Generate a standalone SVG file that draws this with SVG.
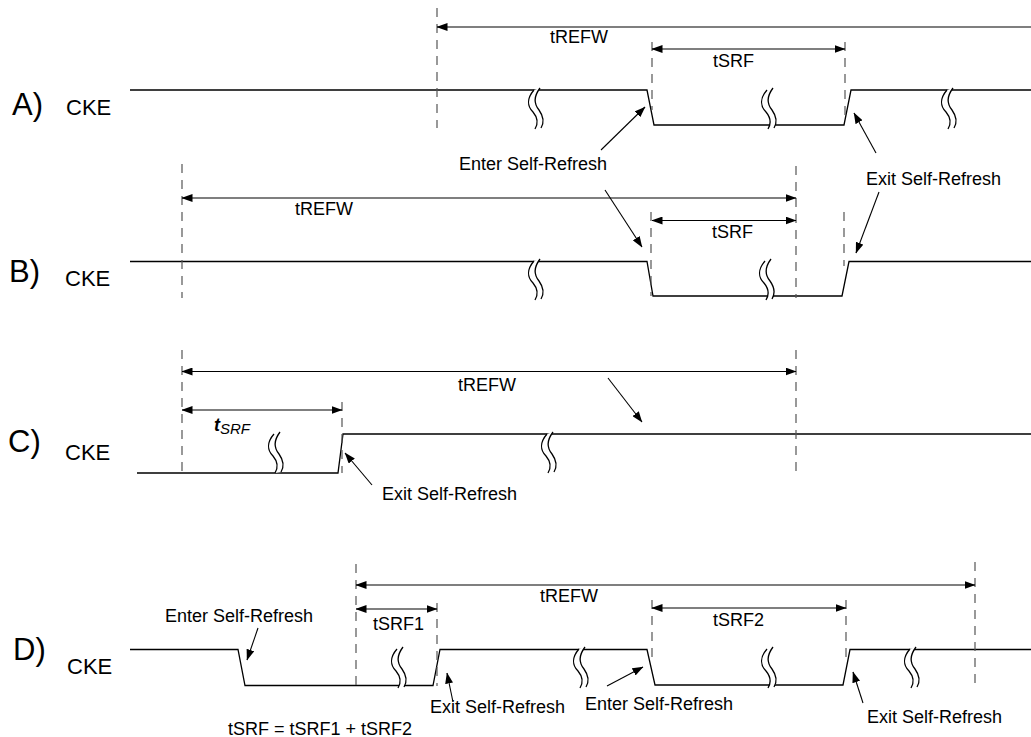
<svg xmlns="http://www.w3.org/2000/svg" xmlns:xlink="http://www.w3.org/1999/xlink" width="1031" height="737" viewBox="0 0 1031 737">
<style>
  .sig{fill:none;stroke:#000;stroke-width:1.3}
  .dash{fill:none;stroke:#555;stroke-width:1.2;stroke-dasharray:9 7}
  .dim{fill:none;stroke:#000;stroke-width:1.1;marker-start:url(#ah);marker-end:url(#ah)}
  .dimL{fill:none;stroke:#000;stroke-width:1.1;marker-start:url(#ah)}
  .ptr{fill:none;stroke:#000;stroke-width:1.1;marker-end:url(#ah)}
  .t{font-family:"Liberation Sans",Arial,sans-serif;font-size:18px;fill:#000}
  .big{font-family:"Liberation Sans",Arial,sans-serif;font-size:31px;fill:#000}
  .cke{font-family:"Liberation Sans",Arial,sans-serif;font-size:22px;fill:#000}
  .bk{fill:none;stroke:#000;stroke-width:1.3}
</style>
<defs>
  <marker id="ah" viewBox="0 0 11 8" refX="10.5" refY="4" markerWidth="11" markerHeight="8" markerUnits="userSpaceOnUse" orient="auto-start-reverse">
    <path d="M0,0 L11,4 L0,8 Z" fill="#000"/>
  </marker>
  <g id="brk">
    <path d="M-3,2 C-10,10 -10,18 -4,24 C1,30 1,36 -2,41 L4,40 C7,35 7,29 2,22 C-3,16 -3,8 3,0 Z" fill="#fff" stroke="none"/>
    <path class="bk" d="M-3,2 C-10,10 -10,18 -4,24 C1,30 1,36 -2,41"/>
    <path class="bk" d="M3,0 C-3,8 -3,16 2,22 C7,29 7,35 4,40"/>
  </g>
</defs>
<rect width="1031" height="737" fill="#fff"/>

<g id="row-a">
  <text class="big" x="12" y="115">A)</text>
  <text class="cke" x="66" y="115">CKE</text>
  <path class="sig" d="M130,90 H647 L654,125 H844 L851,90 H1031"/>
  <use xlink:href="#brk" x="537" y="88"/>
  <use xlink:href="#brk" x="770" y="88"/>
  <use xlink:href="#brk" x="950" y="88"/>
  <line class="dash" x1="437" y1="8" x2="437" y2="128"/>
  <line class="dash" x1="652" y1="42" x2="652" y2="110"/>
  <line class="dash" x1="845" y1="42" x2="845" y2="115"/>
  <text class="t" x="550" y="43">tREFW</text>
  <text class="t" x="713" y="67">tSRF</text>
  <text class="t" x="459" y="170">Enter Self-Refresh</text>
  <text class="t" x="866" y="185">Exit Self-Refresh</text>
</g>

<g id="row-b">
  <text class="big" x="9" y="282">B)</text>
  <text class="cke" x="65" y="286">CKE</text>
  <path class="sig" d="M130,261.5 H647 L653,296 H842 L849,261.5 H1031"/>
  <use xlink:href="#brk" x="537" y="259"/>
  <use xlink:href="#brk" x="768" y="259"/>
  <line class="dash" x1="182" y1="164" x2="182" y2="298"/>
  <line class="dash" x1="796" y1="166" x2="796" y2="298"/>
  <line class="dash" x1="651" y1="212" x2="651" y2="296"/>
  <line class="dash" x1="844" y1="212" x2="844" y2="266"/>
  <text class="t" x="295" y="215">tREFW</text>
  <text class="t" x="712" y="238">tSRF</text>
</g>

<g id="row-c">
  <text class="big" x="8" y="452">C)</text>
  <text class="cke" x="65" y="460">CKE</text>
  <path class="sig" d="M137,473 H338 L343,434 H1031"/>
  <use xlink:href="#brk" x="277" y="432"/>
  <use xlink:href="#brk" x="550" y="432"/>
  <line class="dash" x1="182" y1="350" x2="182" y2="473"/>
  <line class="dash" x1="796" y1="350" x2="796" y2="471"/>
  <line class="dash" x1="342" y1="402" x2="342" y2="473"/>
  <text class="t" x="458" y="391">tREFW</text>
  <text x="214" y="431" font-family="Liberation Sans, Arial, sans-serif"><tspan font-size="18" font-weight="bold" font-style="italic">t</tspan><tspan font-size="15" font-style="italic" dy="3">SRF</tspan></text>
  <text class="t" x="382" y="500">Exit Self-Refresh</text>
</g>

<g id="row-d">
  <text class="big" x="13" y="660">D)</text>
  <text class="cke" x="67" y="674">CKE</text>
  <path class="sig" d="M130,649.5 H238 L245,685.5 H433 L440,649.5 H647 L655,685 H843 L850,649.5 H1031"/>
  <use xlink:href="#brk" x="400" y="647"/>
  <use xlink:href="#brk" x="582" y="647"/>
  <use xlink:href="#brk" x="770" y="647"/>
  <use xlink:href="#brk" x="913" y="647"/>
  <line class="dash" x1="356" y1="564" x2="356" y2="688"/>
  <line class="dash" x1="437" y1="603" x2="437" y2="686"/>
  <line class="dash" x1="652" y1="600" x2="652" y2="658"/>
  <line class="dash" x1="846" y1="600" x2="846" y2="660"/>
  <line class="dash" x1="975" y1="562" x2="975" y2="686"/>
  <text class="t" x="540" y="602">tREFW</text>
  <text class="t" x="373" y="630">tSRF1</text>
  <text class="t" x="713" y="626">tSRF2</text>
  <text class="t" x="165" y="622">Enter Self-Refresh</text>
  <text class="t" x="430" y="713">Exit Self-Refresh</text>
  <text class="t" x="585" y="710">Enter Self-Refresh</text>
  <text class="t" x="867" y="723">Exit Self-Refresh</text>
  <text class="t" x="228" y="735">tSRF = tSRF1 + tSRF2</text>
</g>

<g id="connectors">
  <line class="dimL" x1="437" y1="27" x2="1031" y2="27"/>
  <line class="dim" x1="652" y1="49" x2="845" y2="49"/>
  <line class="ptr" x1="601" y1="150" x2="645" y2="107"/>
  <line class="ptr" x1="876" y1="153" x2="854" y2="113"/>
  <line class="dim" x1="182" y1="198" x2="796" y2="198"/>
  <line class="dim" x1="652" y1="220.5" x2="796" y2="220.5"/>
  <line class="ptr" x1="605" y1="190" x2="642" y2="247"/>
  <line class="ptr" x1="879" y1="192" x2="856" y2="253"/>
  <line class="dim" x1="182" y1="371.5" x2="796" y2="371.5"/>
  <line class="dim" x1="182" y1="410" x2="342" y2="410"/>
  <line class="ptr" x1="372" y1="485" x2="345" y2="453"/>
  <line class="ptr" x1="608" y1="378" x2="642" y2="422"/>
  <line class="dim" x1="356" y1="585" x2="975" y2="585"/>
  <line class="dim" x1="356" y1="609" x2="437" y2="609"/>
  <line class="dim" x1="652" y1="608" x2="846" y2="608"/>
  <line class="ptr" x1="258" y1="628" x2="247" y2="660"/>
  <line class="ptr" x1="453" y1="702" x2="447" y2="673"/>
  <line class="ptr" x1="607" y1="686" x2="643" y2="667"/>
  <line class="ptr" x1="863" y1="703" x2="853" y2="672"/>
</g>
</svg>
